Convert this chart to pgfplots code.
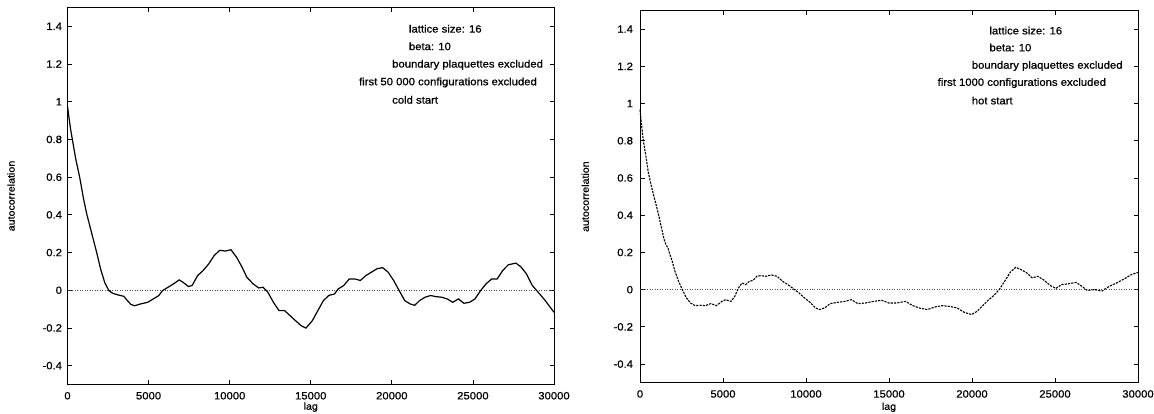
\documentclass[border=0pt]{standalone}
\usepackage{fontspec}
\setmainfont{Liberation Sans}[FakeStretch=1.07, FakeBold=0.8]
\usepackage{pgfplots}
\pgfplotsset{compat=1.18}

\newcommand{\lblfont}{\fontsize{10.6}{12}\selectfont}
\tikzset{annot/.style={anchor=west, inner sep=0pt, font=\lblfont}}

\pgfplotsset{
  acf/.style={
    scale only axis,
    xmin=0, xmax=30000, ymin=-0.5, ymax=1.5,
    scaled x ticks=false, scaled y ticks=false,
    xtick={0,5000,10000,15000,20000,25000,30000},
    xticklabels={0,5000,10000,15000,20000,25000,30000},
    ytick={-0.4,-0.2,0,0.2,0.4,0.6,0.8,1,1.2,1.4},
    yticklabels={-0.4,-0.2,0,0.2,0.4,0.6,0.8,1,1.2,1.4},
    tick align=inside,
    major tick length=4.5bp,
    tick style={black, line width=0.8bp},
    axis line style={black, line width=1bp},
    ticklabel style={font=\lblfont, text=black},
    xticklabel style={yshift=-4bp},
    label style={font=\lblfont, text=black},
    xlabel={lag}, ylabel={autocorrelation},
    clip=false,
  },
}

\begin{document}
\begin{tikzpicture}
\useasboundingbox (0,0) rectangle (1154bp,414bp);

% ---------- cold start ----------
\begin{axis}[acf,
  at={(67.5bp,29.5bp)}, anchor=south west,
  width=486.5bp, height=377bp,
  yticklabel style={xshift=-2bp},
  every axis x label/.style={at={(axis description cs:0.5,-0.06)}, anchor=center},
  every axis y label/.style={at={(axis description cs:-0.116,0.5)}, rotate=90, anchor=center},
]
\addplot[black!70, dotted, line width=0.5bp] coordinates {(0,0) (30000,0)};
\addplot[black, line width=1.2bp] coordinates {
(0,0.976)(100,0.91)(200,0.85)(320,0.79)(500,0.70)(750,0.60)(1000,0.48)(1200,0.40)
(1500,0.30)(1800,0.20)(2050,0.11)(2300,0.04)(2554,-0.002)(2782,-0.016)(3124,-0.025)
(3466,-0.032)(3694,-0.055)(3922,-0.076)(4150,-0.082)(4492,-0.073)(4948,-0.064)
(5290,-0.046)(5632,-0.028)(5860,-0.002)(6202,0.016)(6544,0.034)(6886,0.055)
(7114,0.043)(7456,0.020)(7684,0.025)(8026,0.078)(8368,0.105)(8710,0.140)
(9052,0.185)(9394,0.212)(9736,0.208)(10078,0.215)(10420,0.176)(10762,0.123)
(11058,0.069)(11446,0.034)(11788,0.012)(12062,0.016)(12358,-0.011)(12700,-0.064)
(13043,-0.108)(13385,-0.108)(13727,-0.135)(14069,-0.162)(14411,-0.188)(14700,-0.201)
(15095,-0.162)(15437,-0.108)(15779,-0.055)(16121,-0.027)(16463,-0.020)(16691,0.007)
(17033,0.025)(17375,0.060)(17717,0.060)(18059,0.052)(18401,0.078)(18743,0.096)
(19085,0.114)(19427,0.120)(19769,0.096)(20112,0.052)(20454,-0.002)(20796,-0.055)
(21138,-0.073)(21411,-0.080)(21708,-0.055)(22050,-0.037)(22392,-0.028)(22734,-0.034)
(23076,-0.037)(23418,-0.046)(23760,-0.064)(24102,-0.046)(24444,-0.069)(24786,-0.064)
(25129,-0.046)(25471,-0.002)(25813,0.034)(26155,0.060)(26497,0.060)(26839,0.105)
(27181,0.135)(27650,0.144)(27950,0.125)(28300,0.087)(28663,0.025)(29119,-0.020)
(29461,-0.055)(30000,-0.117)};
\node[annot] at (axis cs:21046,1.387) {lattice size: 16};
\node[annot] at (axis cs:21046,1.294) {beta: 10};
\node[annot] at (axis cs:20010,1.196) {boundary plaquettes excluded};
\node[annot] at (axis cs:17969,1.102) {first 50 000 configurations excluded};
\node[annot] at (axis cs:20010,1.010) {cold start};
\end{axis}

% ---------- hot start ----------
\begin{axis}[acf,
  at={(640bp,31.3bp)}, anchor=south west,
  width=498bp, height=372.2bp,
  yticklabel style={xshift=-3.5bp},
  every axis x label/.style={at={(axis description cs:0.5,-0.066)}, anchor=center},
  every axis y label/.style={at={(axis description cs:-0.11,0.5)}, rotate=90, anchor=center},
]
\addplot[black!70, dotted, line width=0.5bp] coordinates {(0,0) (30000,0)};
\addplot[black, line width=1.1bp, dash pattern=on 2.2bp off 1.1bp] coordinates {
(0,0.967)(100,0.88)(200,0.80)(350,0.72)(500,0.63)(700,0.55)(900,0.48)(1100,0.41)
(1300,0.33)(1450,0.27)(1550,0.245)(1700,0.22)(1800,0.19)(1950,0.15)(2100,0.10)
(2300,0.05)(2550,0.0)(2800,-0.045)(3050,-0.072)(3319,-0.086)(3606,-0.084)
(3938,-0.086)(4270,-0.075)(4602,-0.086)(4934,-0.063)(5155,-0.054)(5487,-0.063)
(5708,-0.036)(5929,0.009)(6150,0.036)(6372,0.027)(6593,0.045)(6814,0.050)
(7035,0.072)(7257,0.075)(7589,0.072)(7920,0.079)(8252,0.072)(8584,0.045)
(8916,0.027)(9248,0.004)(9580,-0.018)(9912,-0.045)(10243,-0.068)(10575,-0.098)
(10796,-0.107)(11128,-0.098)(11460,-0.075)(11903,-0.068)(12345,-0.063)(12743,-0.054)
(13119,-0.075)(13562,-0.072)(14004,-0.064)(14558,-0.057)(15000,-0.072)(15442,-0.072)
(15996,-0.063)(16438,-0.086)(16881,-0.100)(17323,-0.107)(17765,-0.093)(18208,-0.086)
(18650,-0.090)(19093,-0.098)(19535,-0.122)(19978,-0.134)(20310,-0.116)(20642,-0.086)
(20973,-0.057)(21305,-0.032)(21637,0.000)(21969,0.045)(22301,0.093)(22633,0.120)
(22965,0.107)(23296,0.090)(23628,0.063)(23960,0.072)(24292,0.054)(24735,0.021)
(25066,0.007)(25398,0.027)(25841,0.032)(26283,0.039)(26615,0.018)(26947,-0.004)
(27389,0.000)(27832,-0.007)(28274,0.018)(28717,0.036)(29159,0.057)(29602,0.081)
(30000,0.093)};
\node[annot] at (axis cs:21041,1.392) {lattice size: 16};
\node[annot] at (axis cs:21041,1.301) {beta: 10};
\node[annot] at (axis cs:19976,1.202) {boundary plaquettes excluded};
\node[annot] at (axis cs:17919,1.110) {first 1000 configurations excluded};
\node[annot] at (axis cs:19976,1.016) {hot start};
\end{axis}
\end{tikzpicture}
\end{document}
